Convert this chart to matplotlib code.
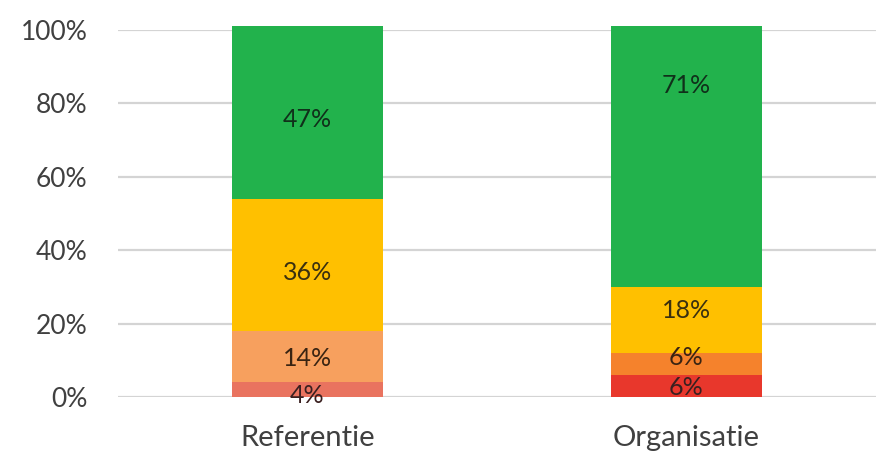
import matplotlib.pyplot as plt
import numpy as np

# categorieen en waarden (procent, van onder naar boven)
categories = ['Referentie', 'Organisatie']
rood = [4, 6]
oranje = [14, 6]
geel = [36, 18]
groen = [47, 71]
yticks = [0, 20, 40, 60, 80, 100]

series = [rood, oranje, geel, groen]
# kleur per segment per balk
colors = [['#E9735F', '#E8372C'],
          ['#F7A05E', '#F5822C'],
          ['#FFC000', '#FFC000'],
          ['#22B24C', '#22B24C']]
label_colors = ['#3a2020', '#3a2412', '#3a3010', '#10301a']
# hoogte van de labels (handmatig verschoven zoals in het origineel)
label_pos = [[0.5, 2.7], [10.6, 10.9], [34, 23.7], [75.5, 85]]

plt.rcParams['font.family'] = ['Lato', 'DejaVu Sans']

fig = plt.figure(figsize=(8.83, 4.74), dpi=100)
ax = fig.add_axes([0.1336, 0.1624, 0.8584, 0.7743])

x = np.arange(len(categories))
bottom = np.zeros(len(categories))
for vals, cols, lc, lp in zip(series, colors, label_colors, label_pos):
    vals = np.array(vals, dtype=float)
    bars = ax.bar(x, vals, 0.4, bottom=bottom, color=cols, zorder=2, clip_on=False)
    for b, v, y in zip(bars, vals, lp):
        ax.text(b.get_x() + b.get_width() / 2, y, f'{int(v)}%',
                ha='center', va='center', fontsize=18, color=lc, zorder=3)
    bottom += vals

ax.set_xlim(-0.5, 1.5)
ax.set_ylim(0, 100)
ax.set_yticks(yticks)
ax.set_yticklabels([f'{t}%' for t in yticks])
ax.set_xticks(x)
ax.set_xticklabels(categories)
ax.tick_params(axis='y', length=0, pad=22, labelsize=19, labelcolor='#404040')
ax.tick_params(axis='x', length=0, pad=20, labelsize=21, labelcolor='#404040')
ax.grid(axis='y', color='#D4D4D4', linewidth=1.6, zorder=0)
ax.set_axisbelow(True)
for s in ax.spines.values():
    s.set_visible(False)

fig.savefig('out.png', dpi=100)
